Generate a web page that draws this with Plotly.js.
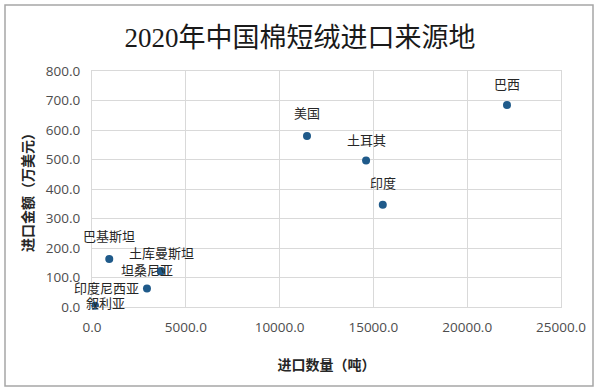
<!DOCTYPE html>
<html>
<head>
<meta charset="utf-8">
<script src="https://cdn.plot.ly/plotly-3.0.1.min.js"></script>
<style>html,body{margin:0;padding:0;background:#fff;}#chart{width:600px;height:389px;}</style>
</head>
<body>
<div id="chart"></div>
<script>
// Data
const countries = ["巴西", "美国", "土耳其", "印度", "巴基斯坦", "土库曼斯坦", "坦桑尼亚", "印度尼西亚", "叙利亚"];
const quantityTons = [22120, 11460, 14610, 15500, 920, 3680, 3670, 2930, 160];
const valueWanUSD = [685, 580, 497, 347, 163, 122, 120, 63, 4];
const xTicks = [0, 5000, 10000, 15000, 20000, 25000];
const yTicks = [0, 100, 200, 300, 400, 500, 600, 700, 800];

// label offsets (pixels) for data labels
const labelShiftX = [0, 0, 0, 0, 0, 0, -14, -40, 10];
const labelShiftY = [21, 23, 21, 22, 23, 19, 2, 1, 3];

const cjk = "'Noto Sans CJK SC', 'Noto Sans', sans-serif";
const annotations = countries.map((c, i) => ({
  x: quantityTons[i], y: valueWanUSD[i], xref: 'x', yref: 'y',
  text: c, showarrow: false, xanchor: 'center', yanchor: 'middle',
  xshift: labelShiftX[i], yshift: labelShiftY[i],
  font: {family: cjk, size: 13, color: '#262626'}
}));

const trace = {
  type: 'scatter', mode: 'markers',
  x: quantityTons, y: valueWanUSD, text: countries,
  marker: {color: '#1f5a8a', size: 8},
  hoverinfo: 'text+x+y', cliponaxis: false
};

const tickFont = {family: "'Open Sans', 'Liberation Sans', sans-serif", size: 13.5, color: '#4d4d4d'};

const layout = {
  width: 600, height: 389,
  margin: {l: 92, r: 39, t: 71, b: 82},
  paper_bgcolor: '#ffffff', plot_bgcolor: '#ffffff',
  showlegend: false,
  title: {
    text: '2020年中国棉短绒进口来源地',
    font: {family: "'Liberation Serif', 'Noto Sans CJK SC', serif", size: 27, color: '#1a1a1a'},
    x: 0.5, xanchor: 'center', y: 1 - 38/389, yanchor: 'middle'
  },
  xaxis: {
    range: [0, 25000], tickvals: xTicks, tickformat: '.1f',
    showgrid: true, gridcolor: '#d9d9d9', gridwidth: 1,
    zeroline: false, showline: true, linecolor: '#d9d9d9', mirror: true,
    ticks: '', ticklen: 0, ticklabelstandoff: 8,
    tickfont: tickFont,
    title: {text: '进口数量（吨）', standoff: 24,
      font: {family: cjk, size: 14, color: '#262626', weight: 'bold'}}
  },
  yaxis: {
    range: [0, 800], tickvals: yTicks, tickformat: '.1f',
    showgrid: true, gridcolor: '#d9d9d9', gridwidth: 1,
    zeroline: false, showline: true, linecolor: '#d9d9d9', mirror: true,
    ticks: '', ticklen: 0, ticklabelstandoff: 8,
    tickfont: tickFont,
    title: {text: '进口金额（万美元）', standoff: 8,
      font: {family: cjk, size: 14, color: '#262626', weight: 'bold'}}
  },
  annotations: annotations,
  shapes: [{
    type: 'rect', xref: 'paper', yref: 'paper',
    x0: (5 - 92) / 469, x1: (593 - 92) / 469,
    y0: (307 - 386) / 236, y1: (307 - 5) / 236,
    line: {color: '#a6a6a6', width: 1.5}, fillcolor: 'rgba(0,0,0,0)', layer: 'below'
  }]
};

Plotly.newPlot('chart', [trace], layout, {displayModeBar: false, staticPlot: true});
</script>
</body>
</html>
